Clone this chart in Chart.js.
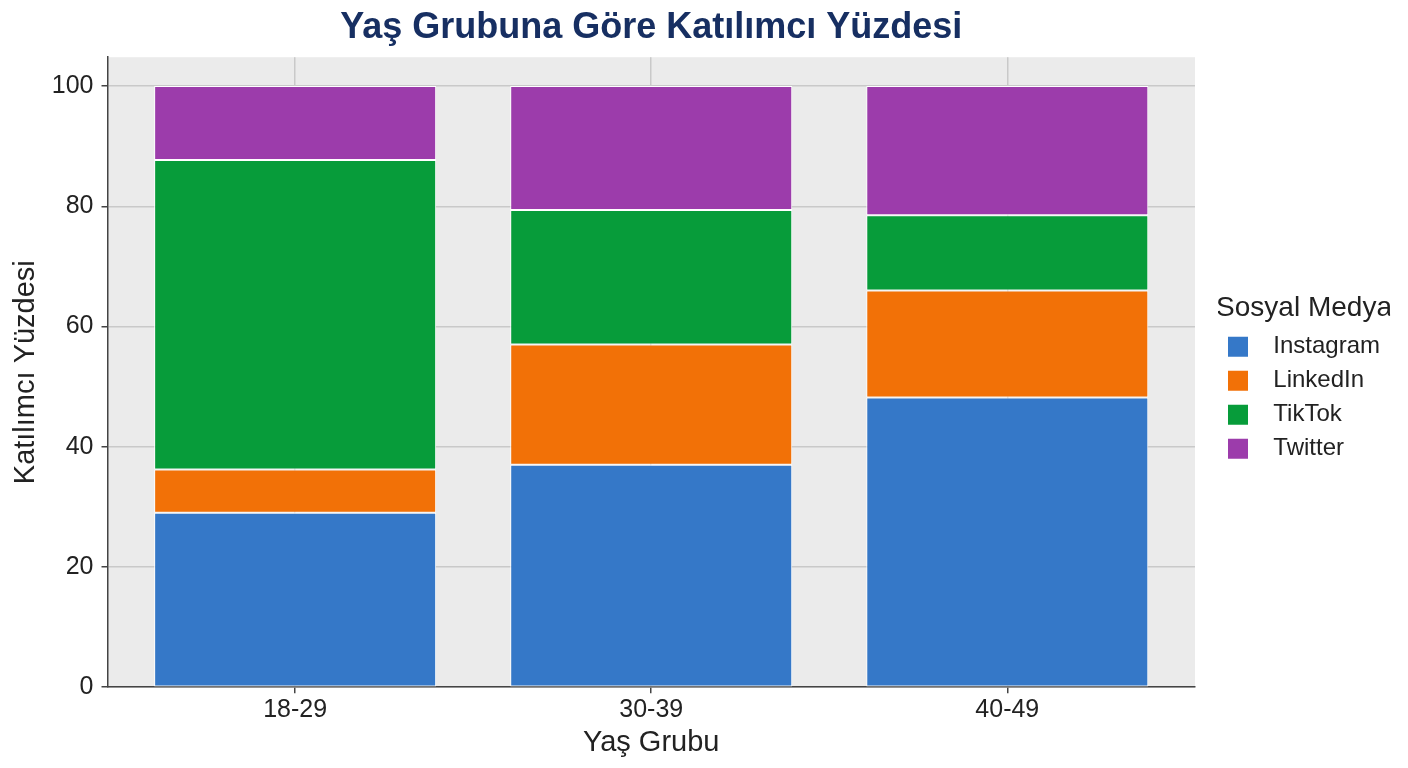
<!DOCTYPE html>
<html lang="tr">
<head>
<meta charset="utf-8">
<title>Yaş Grubuna Göre Katılımcı Yüzdesi</title>
<script src="https://cdn.jsdelivr.net/npm/chart.js@4.4.1/dist/chart.umd.min.js"></script>
<style>
    html, body { margin: 0; padding: 0; background: #ffffff; }
    #wrap { width: 1408px; height: 768px; }
</style>
</head>
<body>
<div id="wrap"><canvas id="chart" width="1408" height="768"></canvas></div>
<script>
// Data
const ageGroups = ['18-29', '30-39', '40-49'];
const instagram = [29.0, 37.0, 48.2];
const linkedin = [7.2, 20.0, 17.8];
const tiktok = [51.5, 22.4, 12.5];
const twitter = [12.3, 20.6, 21.5];
const yTicks = [0, 20, 40, 60, 80, 100];

const seriesNames = ['Instagram', 'LinkedIn', 'TikTok', 'Twitter'];
const seriesColors = ['#3578c8', '#f27107', '#079c3a', '#9c3cab'];
const seriesValues = [instagram, linkedin, tiktok, twitter];

const FONT = '"Liberation Sans", Arial, sans-serif';
const X_MARGIN = 0.527;   // empty space either side of the outer bars, in categories
const LEGEND_LEFT = 1218;
const LEGEND_SHIFT_Y = 0.5;

// grey panel behind the bars
const panelBackground = {
    id: 'panelBackground',
    beforeDraw(chart) {
        const { ctx, chartArea } = chart;
        ctx.save();
        ctx.fillStyle = '#ebebeb';
        ctx.fillRect(chartArea.left, chartArea.top, chartArea.right - chartArea.left, chartArea.bottom - chartArea.top);
        ctx.restore();
    }
};

// nudge the category range and the legend box after layout
const layoutTweaks = {
    id: 'layoutTweaks',
    afterLayout(chart) {
        const x = chart.scales.x;
        x._startValue = -X_MARGIN;
        x._valueRange = ageGroups.length - 1 + 2 * X_MARGIN;
        const lg = chart.legend;
        if (lg) {
            lg.left = LEGEND_LEFT;
            lg.right = lg.left + lg.width;
            lg.top += LEGEND_SHIFT_Y;
            lg.bottom += LEGEND_SHIFT_Y;
        }
    }
};

const datasets = seriesNames.map((name, i) => ({
    label: name,
    data: seriesValues[i],
    backgroundColor: seriesColors[i],
    borderColor: '#ffffff',
    borderWidth: 1,
    borderSkipped: false,
    categoryPercentage: 1.0,
    barPercentage: 0.792
}));

const ctx = document.getElementById('chart').getContext('2d');
new Chart(ctx, {
    type: 'bar',
    data: { labels: ageGroups, datasets: datasets },
    plugins: [panelBackground, layoutTweaks],
    options: {
        responsive: false,
        animation: false,
        layout: { padding: { left: 3, right: 41, top: 0, bottom: 4 } },
        plugins: {
            title: {
                display: true,
                text: 'Yaş Grubuna Göre Katılımcı Yüzdesi',
                color: '#172f62',
                fullSize: false,
                font: { family: FONT, size: 36, weight: 'bold' },
                padding: { top: 6, bottom: 8 }
            },
            legend: {
                position: 'right',
                align: 'center',
                title: {
                    display: true,
                    text: 'Sosyal Medya',
                    position: 'center',
                    color: '#222222',
                    font: { family: FONT, size: 28 },
                    padding: { top: 0, bottom: -3 }
                },
                labels: {
                    color: '#222222',
                    font: { family: FONT, size: 24 },
                    boxWidth: 20,
                    boxHeight: 20,
                    padding: 10,
                    generateLabels(chart) {
                        const items = Chart.defaults.plugins.legend.labels.generateLabels(chart);
                        items.forEach(item => {
                            item.text = '  ' + item.text;
                            item.strokeStyle = item.fillStyle;
                            item.lineWidth = 0;
                        });
                        return items;
                    }
                }
            },
            tooltip: { enabled: false }
        },
        scales: {
            x: {
                stacked: true,
                offset: true,
                grid: {
                    offset: false,
                    color: '#c9c9c9',
                    lineWidth: 1.5,
                    tickColor: '#444444',
                    tickLength: 6
                },
                border: { color: '#444444', width: 1.5 },
                ticks: { color: '#222222', font: { family: FONT, size: 25 }, padding: 2 },
                title: {
                    display: true,
                    text: 'Yaş Grubu',
                    color: '#222222',
                    font: { family: FONT, size: 29 },
                    padding: { top: -2, bottom: 4 }
                }
            },
            y: {
                stacked: true,
                min: 0,
                max: 104.8,
                afterBuildTicks(scale) {
                    scale.ticks = yTicks.map(v => ({ value: v }));
                },
                grid: {
                    color: '#c9c9c9',
                    lineWidth: 1.5,
                    tickColor: '#444444',
                    tickLength: 6
                },
                border: { color: '#444444', width: 1.5 },
                ticks: { color: '#222222', font: { family: FONT, size: 25 }, padding: 8 },
                title: {
                    display: true,
                    text: 'Katılımcı Yüzdesi',
                    color: '#222222',
                    font: { family: FONT, size: 29 },
                    padding: { top: 6, bottom: 0 }
                }
            }
        }
    }
});
</script>
</body>
</html>
